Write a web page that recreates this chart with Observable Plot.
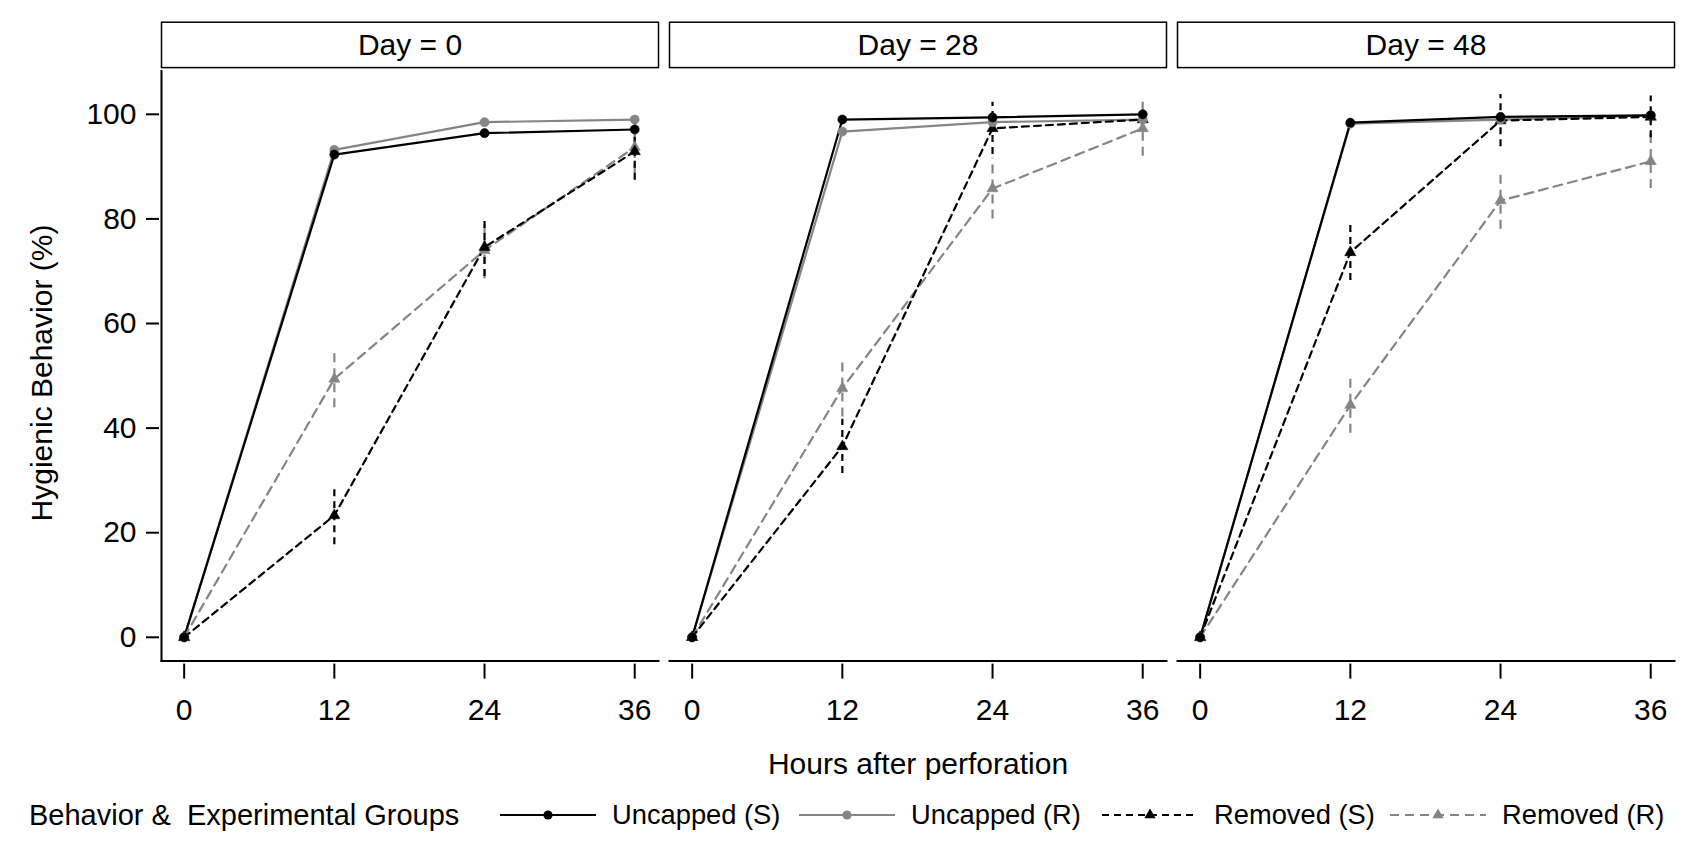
<!DOCTYPE html>
<html>
<head>
<meta charset="utf-8">
<script src="https://cdn.jsdelivr.net/npm/d3@7"></script>
<script src="https://cdn.jsdelivr.net/npm/@observablehq/plot@0.6"></script>
<style>
  html, body { margin: 0; padding: 0; background: #fff; }
  #wrap { position: relative; width: 1698px; height: 851px; font-family: "Liberation Sans", Arial, sans-serif; color: #000; }
  #legend { position: absolute; left: 0; top: 790px; width: 1698px; height: 50px; font-size: 27.3px; }
  #legend .item { position: absolute; top: 0; height: 50px; display: flex; align-items: center; white-space: pre; }
  #legend .title { font-size: 29px; }
  #legend svg { display: block; }
</style>
</head>
<body>
<div id="wrap">
  <div id="chart"></div>
  <div id="legend"></div>
</div>
<script>
// Facets (days after treatment) and time points (hours after perforation)
const days = [0, 28, 48];
const hours = [0, 12, 24, 36];
const yTicks = [0, 20, 40, 60, 80, 100];

// Hygienic behaviour (%) — one row per day, one value per hour
const uncappedS = [[0, 92.3, 96.4, 97.1], [0, 99.0, 99.4, 100.0], [0, 98.4, 99.5, 99.8]];
const uncappedR = [[0, 93.2, 98.5, 99.0], [0, 96.7, 98.5, 99.0], [0, 98.2, 99.0, 99.8]];
const removedS  = [[0, 23.3, 74.6, 92.9], [0, 36.5, 97.3, 99.0], [0, 73.6, 98.8, 99.5]];
const removedR  = [[0, 49.4, 74.0, 93.7], [0, 47.6, 85.8, 97.3], [0, 44.4, 83.5, 91.0]];
// Half-widths of the error bars on the "Removed" groups
const removedSErr = [[0, 5.6, 5.6, 5.5], [0, 5.2, 5.0, 2.0], [0, 5.4, 5.0, 4.0]];
const removedRErr = [[0, 5.5, 5.5, 5.0], [0, 5.5, 5.8, 5.3], [0, 5.4, 5.5, 5.2]];

const seriesLabels = ["Uncapped (S)", "Uncapped (R)", "Removed (S)", "Removed (R)"];
const legendTitle = "Behavior &  Experimental Groups";

// Styling per series
const BLACK = "#000000", GRAY = "#858585";
const styles = {
  "Uncapped (S)": {stroke: BLACK, dash: null, symbol: "circle", r: 4.6},
  "Uncapped (R)": {stroke: GRAY, dash: null, symbol: "circle", r: 4.6},
  "Removed (S)":  {stroke: BLACK, dash: "7,5", symbol: "triangle", r: 4.2},
  "Removed (R)":  {stroke: GRAY, dash: "9,6", symbol: "triangle", r: 4.2}
};

function rowsFor(label, values, errs) {
  const out = [];
  days.forEach((day, i) => hours.forEach((hour, j) => {
    const v = values[i][j], e = errs ? errs[i][j] : 0;
    out.push({series: label, day, hour, value: v, lo: v - e, hi: v + e, err: e});
  }));
  return out;
}
const rUS = rowsFor("Uncapped (S)", uncappedS);
const rUR = rowsFor("Uncapped (R)", uncappedR);
const rRS = rowsFor("Removed (S)", removedS, removedSErr);
const rRR = rowsFor("Removed (R)", removedR, removedRErr);

function lineMark(rows) {
  const s = styles[rows[0].series];
  return Plot.line(rows, {x: "hour", y: "value", fx: "day", stroke: s.stroke, strokeWidth: 2.2,
    strokeDasharray: s.dash, strokeLinejoin: "round"});
}
function errMark(rows) {
  const s = styles[rows[0].series];
  return Plot.ruleX(rows.filter(d => d.err > 0), {x: "hour", y1: "lo", y2: "hi", fx: "day",
    stroke: s.stroke, strokeWidth: 2.2, strokeDasharray: s.dash});
}
function dotMark(rows) {
  const s = styles[rows[0].series];
  return Plot.dot(rows, {x: "hour", y: "value", fx: "day", fill: s.stroke, stroke: s.stroke,
    strokeWidth: 0.5, symbol: s.symbol, r: s.r});
}

const W = 1698, H = 790;
const mTop = 70.4, mBottom = H - 660.6, mLeft = 159.2, mRight = 22.7;
const innerH = H - mTop - mBottom;

const chart = Plot.plot({
  width: W,
  height: H,
  marginTop: mTop,
  marginBottom: mBottom,
  marginLeft: mLeft,
  marginRight: mRight,
  style: {fontFamily: "'Liberation Sans', Arial, sans-serif", fontSize: "30px", color: "#000", background: "#fff", overflow: "visible"},
  fx: {domain: days, paddingInner: 0.0214, paddingOuter: 0, axis: null},
  x: {domain: [-1.81, 37.9]},
  y: {domain: [-4.55, 108.3]},
  marks: [
    // strip boxes and titles above each panel
    Plot.frame({insetTop: -48.7, insetBottom: innerH + 3.3, stroke: "#000", strokeWidth: 1.5}),
    Plot.text(days, {fx: d => d, text: d => `Day = ${d}`, frameAnchor: "top", lineAnchor: "middle",
      dy: -26, fontSize: 30}),
    // axis lines
    Plot.frame({anchor: "bottom", stroke: "#000", strokeWidth: 2}),
    Plot.frame({anchor: "left", facetAnchor: "left", stroke: "#000", strokeWidth: 2}),
    Plot.axisX({ticks: hours, tickSize: 15, dy: 3, tickPadding: 20, label: null, fontSize: 30, strokeWidth: 2}),
    Plot.axisY({ticks: yTicks, tickSize: 13, dx: -2, tickPadding: 10, label: null, fontSize: 30, strokeWidth: 2}),
    // axis titles
    Plot.text(days.slice(0, 1), {fx: d => d, text: () => "Hygienic Behavior (%)", frameAnchor: "left",
      textAnchor: "middle", lineAnchor: "middle", rotate: -90, dx: -119, dy: 7, fontSize: 30}),
    Plot.text(days.slice(1, 2), {fx: d => d, text: () => "Hours after perforation", frameAnchor: "bottom",
      lineAnchor: "middle", dy: 103, fontSize: 30}),
    // series
    lineMark(rUR),
    lineMark(rUS),
    errMark(rRR),
    lineMark(rRR),
    errMark(rRS),
    lineMark(rRS),
    dotMark(rRR),
    dotMark(rRS),
    dotMark(rUR),
    dotMark(rUS)
  ]
});
document.getElementById("chart").appendChild(chart);

// Legend below the plot
const legend = document.getElementById("legend");
const title = document.createElement("div");
title.className = "item title";
title.style.left = "29px";
title.textContent = legendTitle;
legend.appendChild(title);

const swatchLeft = [500, 799, 1102, 1390];
seriesLabels.forEach((label, i) => {
  const s = styles[label];
  const item = document.createElement("div");
  item.className = "item";
  item.style.left = swatchLeft[i] + "px";
  const sw = 96;
  const svg = d3.create("svg").attr("width", sw).attr("height", 50);
  svg.append("line").attr("x1", 0).attr("x2", sw).attr("y1", 25).attr("y2", 25)
    .attr("stroke", s.stroke).attr("stroke-width", 2).attr("stroke-dasharray", s.dash);
  const sym = s.symbol === "circle" ? d3.symbolCircle : d3.symbolTriangle;
  const area = Math.PI * s.r * s.r;
  svg.append("path").attr("d", d3.symbol(sym, area)()).attr("transform", `translate(${sw / 2},25)`)
    .attr("fill", s.stroke);
  item.appendChild(svg.node());
  const txt = document.createElement("span");
  txt.textContent = label;
  txt.style.marginLeft = "16px";
  item.appendChild(txt);
  legend.appendChild(item);
});
</script>
</body>
</html>
